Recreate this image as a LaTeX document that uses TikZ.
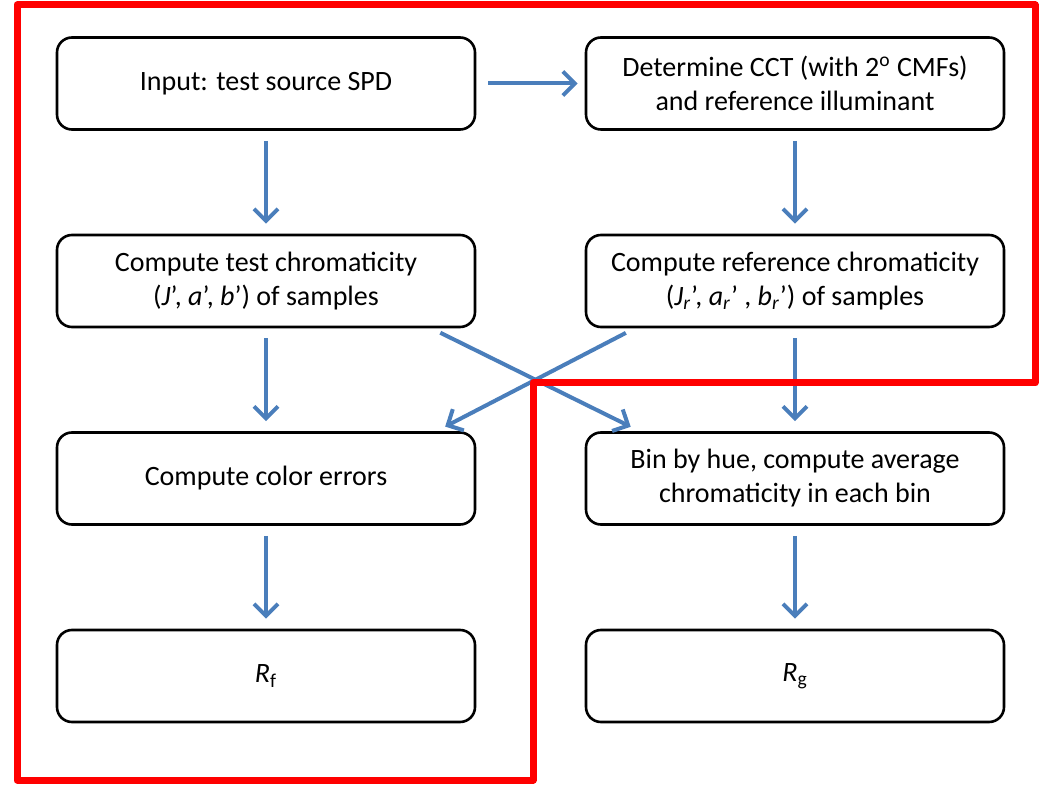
\documentclass[tikz,border=0pt]{standalone}
\usepackage{fontspec}
\setmainfont{Carlito}
\usetikzlibrary{arrows.meta,calc}

\begin{document}
\begin{tikzpicture}[x=0.5pt,y=-0.5pt,
	box/.style={draw=black,line width=1.3pt,rounded corners=7.5pt,minimum width=209pt,minimum height=46pt,align=center,inner sep=0pt,font=\fontsize{14}{17}\selectfont},
	flow/.style={draw={rgb,255:red,74;green,126;blue,187},line width=2pt,-{Straight Barb[length=6pt,width=12pt]},shorten <=5pt,shorten >=5pt}]
	\useasboundingbox (0,0) rectangle (1048,785);
	\node [box] (input) at (266,83.5) {Input: test source SPD};
	\node [box] (cct) at (795,83.5) {Determine CCT (with 2\textsuperscript{o} CMFs)\\and reference illuminant};
	\node [box] (testchr) at (266,281) {Compute test chromaticity\\(\textit{J}’, \textit{a}’, \textit{b}’) of samples};
	\node [box] (refchr) at (795,281) {Compute reference chromaticity\\(\textit{J}\textsubscript{\textit{r}}’, \textit{a}\textsubscript{\textit{r}}’ , \textit{b}\textsubscript{\textit{r}}’) of samples};
	\node [box] (colerr) at (266,478.5) {Compute color errors};
	\node [box] (bins) at (795,478.5) {Bin by hue, compute average\\chromaticity in each bin};
	\node [box] (rf) at (266,676) {\textit{R}\textsubscript{f}};
	\node [box] (rg) at (795,676) {\textit{R}\textsubscript{g}};
	\draw [flow,shorten <=6pt,shorten >=3.5pt] (input) -- (cct);
	\draw [flow] (input) -- (testchr);
	\draw [flow] (cct) -- (refchr);
	\draw [flow] (testchr) -- (colerr);
	\draw [flow] (refchr) -- (bins);
	\draw [flow] (colerr) -- (rf);
	\draw [flow] (bins) -- (rg);
	\draw [flow] ($(testchr.south east)+(-45,0)$) -- ($(bins.north west)+(55,0)$);
	\draw [flow] ($(refchr.south west)+(50,0)$) -- ($(colerr.north east)+(-40,0)$);
	\draw [red,line width=3.5pt,line join=round] (17,5) -- (1035,5) -- (1035,383) -- (533,383) -- (533,780) -- (17,780) -- cycle;
\end{tikzpicture}
\end{document}
